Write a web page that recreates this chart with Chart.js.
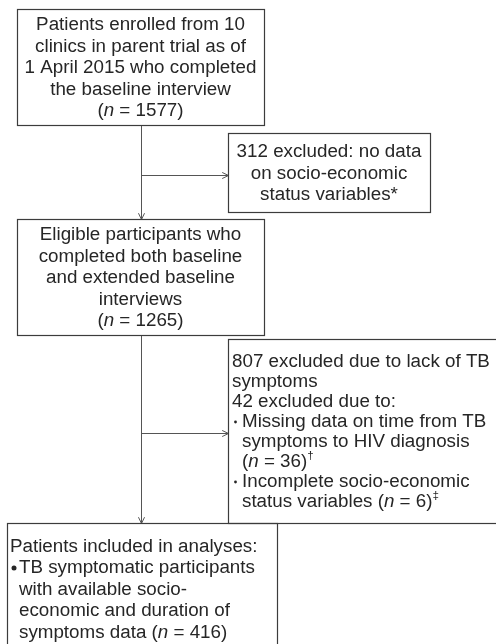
<!DOCTYPE html>
<html>
<head>
<meta charset="utf-8">
<script src="https://cdn.jsdelivr.net/npm/chart.js@4"></script>
<style>
html, body { margin: 0; padding: 0; background: #fff; }
#wrap { width: 496px; height: 644px; position: relative; }
</style>
</head>
<body>
<div id="wrap"><canvas id="flow"></canvas></div>
<script>
// counts
const enrolled = 1577;
const excludedNoSes = 312;
const eligible = 1265;
const excludedNoSymptoms = 807;
const excludedOther = 42;
const missingTime = 36;
const incompleteSes = 6;
const included = 416;

// box texts, one entry per line (_x_ italic, ^x^ superscript, "• " bullet, "  " hanging indent)
const enrolledText = ['Patients enrolled from 10', 'clinics in parent trial as of', '1 April 2015 who completed', 'the baseline interview', `(_n_ = ${enrolled})`];
const excl1Text = [`${excludedNoSes} excluded: no data`, 'on socio-economic', 'status variables*'];
const eligibleText = ['Eligible participants who', 'completed both baseline', 'and extended baseline', 'interviews', `(_n_ = ${eligible})`];
const excl2Text = [`${excludedNoSymptoms} excluded due to lack of TB`, 'symptoms', `${excludedOther} excluded due to:`,
  '• Missing data on time from TB', '  symptoms to HIV diagnosis', `  (_n_ = ${missingTime})^†^`,
  '• Incomplete socio-economic', `  status variables (_n_ = ${incompleteSes})^‡^`];
const includedText = ['Patients included in analyses:', '• TB symptomatic participants', '  with available socio-',
  '  economic and duration of', `  symptoms data (_n_ = ${included})`];

// layout in axis units (x 0-496, y 0-644 top to bottom)
const boxes = [
  { lines: enrolledText, x0: 17, x1: 264, y0: 9, y1: 125, align: 'center', lh: 21.6 },
  { lines: excl1Text, x0: 228, x1: 430, y0: 133, y1: 212, align: 'center', lh: 21.6 },
  { lines: eligibleText, x0: 17, x1: 264, y0: 219, y1: 335, align: 'center', lh: 21.6 },
  { lines: excl2Text, x0: 228, x1: 502, y0: 339, y1: 523, align: 'left', lh: 20, tx: 232, bx: 234, ix: 242, bullet: 'small' },
  { lines: includedText, x0: 7, x1: 277, y0: 523, y1: 660, align: 'left', lh: 21.6, tx: 10, bx: 11, ix: 19, top: 546.5 }
];
const links = [
  [141, 125, 141, 219],
  [141, 175, 228, 175],
  [141, 335, 141, 523],
  [141, 433, 228, 433]
];

const FONT = '"Liberation Sans", Arial, Helvetica, sans-serif';
const SIZE = 18.8;

function segs(line) {
  return line.split(/(_[^_]+_|\^[^^]+\^)/).filter(s => s).map(s => {
    if (s[0] === '_') return { t: s.slice(1, -1), italic: true };
    if (s[0] === '^') return { t: s.slice(1, -1), sup: true };
    return { t: s };
  });
}
function segFont(s) {
  return (s.italic ? 'italic ' : '') + (s.sup ? SIZE * 0.62 : SIZE) + 'px ' + FONT;
}
function lineWidth(ctx, parts) {
  let w = 0;
  parts.forEach(s => { ctx.font = segFont(s); w += ctx.measureText(s.t).width; });
  return w;
}
function drawParts(ctx, parts, x, y) {
  parts.forEach(s => {
    ctx.font = segFont(s);
    ctx.fillText(s.t, x, s.sup ? y - SIZE * 0.33 : y);
    x += ctx.measureText(s.t).width;
  });
}

const flowPlugin = {
  id: 'flow',
  afterDraw(chart) {
    const ctx = chart.ctx, sx = chart.scales.x, sy = chart.scales.y;
    const px = v => sx.getPixelForValue(v), py = v => sy.getPixelForValue(v);
    const snap = v => Math.round(v) + 0.5;
    ctx.save();

    // connectors with open arrow heads
    ctx.strokeStyle = '#555';
    ctx.lineWidth = 1;
    links.forEach(([a, b, c, d]) => {
      const x1 = snap(px(a)), y1 = snap(py(b)), x2 = snap(px(c)), y2 = snap(py(d));
      ctx.beginPath(); ctx.moveTo(x1, y1); ctx.lineTo(x2, y2); ctx.stroke();
      const ang = Math.atan2(y2 - y1, x2 - x1), len = 7, spread = 0.45;
      ctx.beginPath();
      ctx.moveTo(x2 - len * Math.cos(ang - spread), y2 - len * Math.sin(ang - spread));
      ctx.lineTo(x2, y2);
      ctx.lineTo(x2 - len * Math.cos(ang + spread), y2 - len * Math.sin(ang + spread));
      ctx.stroke();
    });

    // boxes
    ctx.strokeStyle = '#3c3c3c';
    ctx.lineWidth = 1.2;
    boxes.forEach(b => {
      const x0 = snap(px(b.x0)), x1 = snap(px(b.x1)), y0 = snap(py(b.y0)), y1 = snap(py(b.y1));
      ctx.strokeRect(x0, y0, x1 - x0, y1 - y0);
    });

    // texts
    ctx.fillStyle = '#262626';
    ctx.textBaseline = 'middle';
    ctx.textAlign = 'left';
    boxes.forEach(b => {
      const n = b.lines.length;
      const first = b.top !== undefined ? b.top : (b.y0 + b.y1) / 2 - (n - 1) * b.lh / 2 + 1;
      b.lines.forEach((line, i) => {
        const y = py(first + i * b.lh);
        if (b.align === 'center') {
          const parts = segs(line);
          const w = lineWidth(ctx, parts);
          drawParts(ctx, parts, px((b.x0 + b.x1) / 2) - w / 2, y);
        } else if (line.startsWith('• ')) {
          if (b.bullet === 'small') {
            ctx.beginPath(); ctx.arc(px(b.bx) + 1.5, y, 1.4, 0, Math.PI * 2); ctx.fill();
          } else {
            ctx.beginPath(); ctx.arc(px(b.bx) + 3, y, 2.5, 0, Math.PI * 2); ctx.fill();
          }
          drawParts(ctx, segs(line.slice(2)), px(b.ix), y);
        } else if (line.startsWith('  ')) {
          drawParts(ctx, segs(line.slice(2)), px(b.ix), y);
        } else {
          drawParts(ctx, segs(line), px(b.tx), y);
        }
      });
    });
    ctx.restore();
  }
};

new Chart(document.getElementById('flow'), {
  type: 'scatter',
  data: { datasets: [] },
  options: {
    responsive: true,
    maintainAspectRatio: false,
    animation: false,
    layout: { padding: 0 },
    plugins: { legend: { display: false }, tooltip: { enabled: false } },
    scales: {
      x: { type: 'linear', min: 0, max: 496, display: false },
      y: { type: 'linear', min: 0, max: 644, reverse: true, display: false }
    }
  },
  plugins: [flowPlugin]
});
</script>
</body>
</html>
